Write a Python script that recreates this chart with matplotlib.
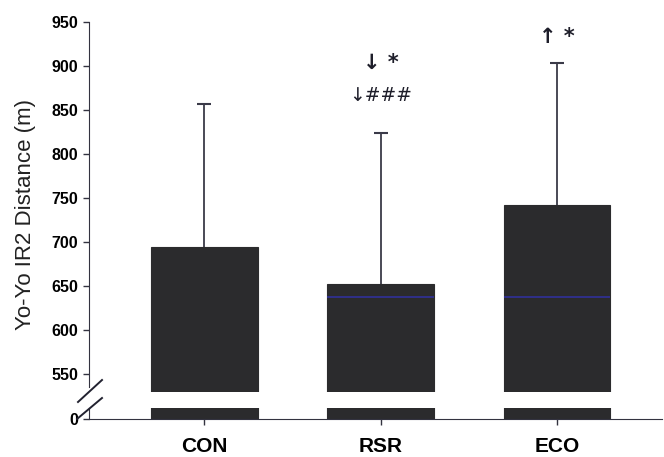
import numpy as np
import matplotlib
matplotlib.use('Agg')
import matplotlib.pyplot as plt
from matplotlib.lines import Line2D

plt.rcParams['font.family'] = ['Liberation Sans', 'DejaVu Sans']

groups = ['CON', 'RSR', 'ECO']
means = [694, 652, 742]
sd_upper = [163, 172, 161]
baseline = [None, 638, 638]
marks_1 = ['', '\u2193 *', '\u2191 *']
marks_2 = ['', '\u2193###', '']

bar_col = '#2b2b2d'
err_col = '#3a3a48'
W, H = 664, 457

fig = plt.figure(figsize=(W / 100, H / 100), dpi=100)

def fbox(x0, y0, x1, y1):
    # pixel box (top-left origin) -> figure fraction rect
    return [x0 / W, 1 - y1 / H, (x1 - x0) / W, (y1 - y0) / H]

ax_top = fig.add_axes(fbox(89, 22, 662, 392))
ax_bot = fig.add_axes(fbox(89, 408, 662, 419))

x = np.arange(len(groups))
xlim = (-0.652, 2.595)
bw = 0.606

for axes in (ax_top, ax_bot):
    axes.bar(x, means, width=bw, color=bar_col, edgecolor=bar_col, linewidth=0.8, zorder=2)
    axes.set_xlim(xlim)
    axes.spines['top'].set_visible(False)
    axes.spines['right'].set_visible(False)
    axes.spines['left'].set_color('#333340')
    axes.spines['bottom'].set_color('#333340')
    axes.tick_params(axis='y', direction='out', length=4, width=1.0, color='#333340',
                     labelsize=11.5, pad=4)

# upper half error bars only
tops = np.array(means) + np.array(sd_upper)
ax_top.vlines(x, means, tops, color=err_col, linewidth=1.3, zorder=1)
ax_top.plot(x, tops, linestyle='none', marker='_', markersize=10, markeredgewidth=1.5,
            color=err_col, zorder=1)
for i, b in enumerate(baseline):
    if b is not None:
        ax_top.hlines(b, i - bw / 2, i + bw / 2, color='#30309a', linewidth=1.2, zorder=3)

ax_top.set_ylim(529.5, 950)
ax_top.set_yticks(np.arange(550, 951, 50))
ax_top.spines['bottom'].set_visible(False)
ax_top.spines['left'].set_bounds(535, 950)
ax_top.set_xticks([])
for lab in ax_top.get_yticklabels():
    lab.set_fontweight('bold')

ax_bot.set_ylim(0, 12.5)
ax_bot.set_yticks([0])
ax_bot.set_xticks(x)
ax_bot.set_xticklabels(groups, fontsize=15, fontweight='bold')
ax_bot.tick_params(axis='x', direction='out', length=4, width=1.0, color='#333340', pad=9)
for lab in ax_bot.get_yticklabels():
    lab.set_fontweight('bold')

for i in range(len(groups)):
    if marks_1[i]:
        y1 = 904 if i == 1 else 933
        ax_top.text(i, y1, marks_1[i], ha='center', va='center', fontsize=15,
                    family='DejaVu Sans', fontweight='bold', color='#1e1e2a', clip_on=False)
    if marks_2[i]:
        ax_top.text(i, 866, marks_2[i], ha='center', va='center', fontsize=13.5,
                    family='DejaVu Sans', color='#1e1e2a', clip_on=False)

fig.text(25 / W, 1 - 215 / H, 'Yo-Yo IR2 Distance (m)', rotation=90,
         ha='center', va='center', fontsize=16, color='#222222')

# break marks
for (xa, ya, xb, yb) in [(78, 402, 102, 380), (77, 419, 102, 398)]:
    fig.add_artist(Line2D([xa / W, xb / W], [1 - ya / H, 1 - yb / H],
                          color='#222230', linewidth=1.4))

fig.savefig('out.png', dpi=100)
